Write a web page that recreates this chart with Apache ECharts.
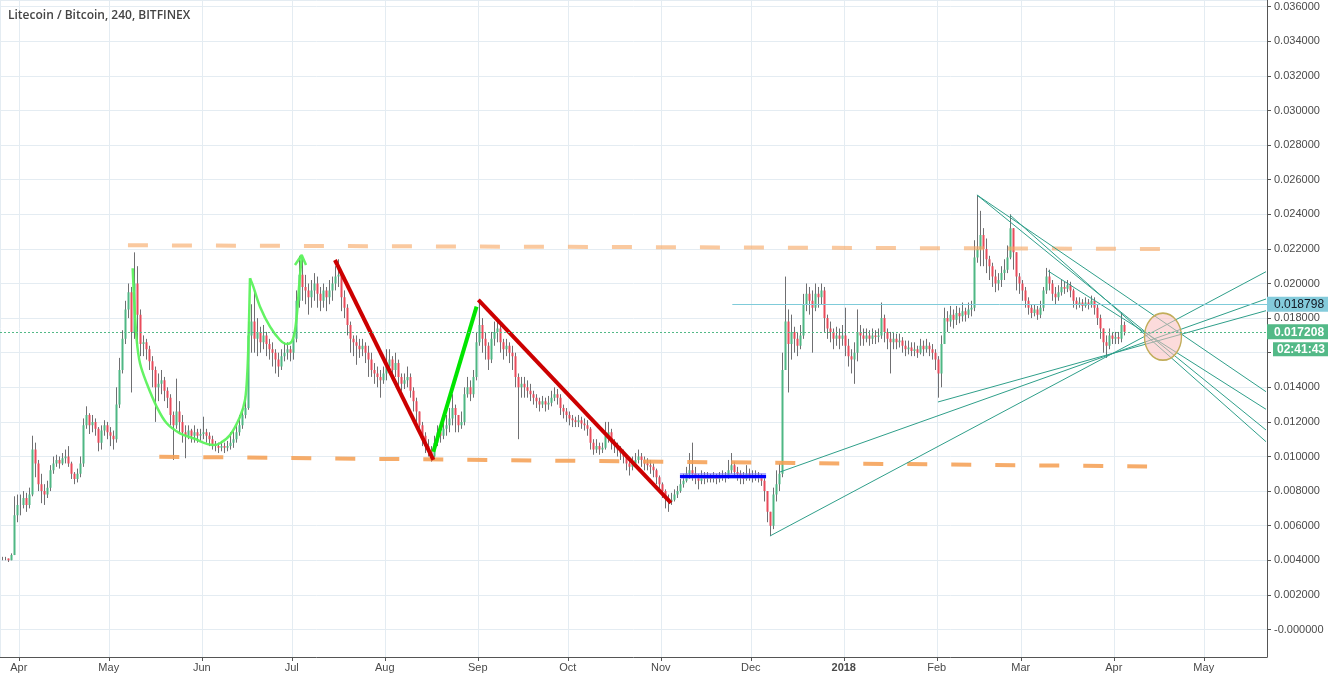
<!DOCTYPE html>
<html>
<head>
<meta charset="utf-8">
<script src="https://cdn.jsdelivr.net/npm/echarts@6/dist/echarts.min.js"></script>
<style>html,body{margin:0;padding:0;background:#fff}#c{width:1328px;height:676px}</style>
</head>
<body>
<div id="c"></div>
<script>
// ---- DATA (daily candles, price in units of 0.0001 BTC), first candle 2017-03-26 ----
const firstDay = '2017-03-26';
const closes = [
41,41,40,43,66,72,
72,76,72,78,104,96,84,80,78,82,92,96,98,96,99,100,96,90,87,90,96,118,124,118,120,116,108,115,118,114,
112,110,130,150,168,185,195,172,200,182,165,166,162,155,150,140,142,144,138,134,124,118,126,120,114,112,115,112,114,112,113,
114,112,110,107,106,105,106,105,106,108,110,114,118,124,128,170,178,168,172,166,170,165,162,160,156,152,158,160,162,160,
168,190,205,198,196,192,196,200,194,190,196,192,196,200,204,205,192,186,176,168,166,164,162,164,160,156,150,148,146,144,148,
152,156,150,154,146,142,144,146,138,132,126,118,112,106,104,100,108,114,112,116,118,122,128,124,118,120,136,140,136,146,166,
176,168,164,156,168,172,174,166,162,164,160,158,146,140,142,140,138,136,134,132,130,132,130,131,134,136,134,128,126,124,
122,121,120,121,119,118,116,108,104,106,104,105,112,114,108,106,104,102,100,96,94,96,98,100,98,96,95,94,92,88,84,
80,76,74,75,78,80,84,86,90,92,90,88,86,88,87,88,87,88,87,88,89,88,92,95,91,90,88,87,90,89,
88,89,88,86,80,68,60,78,84,90,150,178,165,172,168,164,170,188,194,190,186,194,192,196,180,174,172,168,170,168,170,
164,158,156,160,172,170,168,170,168,170,169,170,180,172,168,166,168,166,167,164,162,163,161,162,160,164,162,164,162,160,156,
148,165,180,178,182,179,183,181,184,182,185,186,215,220,228,220,214,210,204,200,202,206,208,215,232,218,204,200,
196,190,186,183,185,182,186,196,204,200,194,192,195,198,197,199,196,190,188,189,187,189,188,190,186,180,174,166,164,170,168,
169,168,176,172.08
];
const highs = [
42,42,41,44,77,78,
78,80,79,82,112,108,98,90,84,86,95,100,101,100,102,104,106,97,91,93,100,122,129,125,124,122,117,118,121,120,
117,115,140,157,173,190,200,198,218,210,185,170,168,164,158,152,148,150,146,140,136,126,145,132,124,118,118,116,118,116,116,
123,116,114,112,109,108,109,108,109,114,115,118,124,128,135,178,188,196,180,175,176,172,168,166,162,160,162,166,166,164,
172,196,216,214,205,200,202,206,204,198,200,198,202,204,210,214,206,196,188,178,170,170,168,168,166,164,160,154,152,150,152,
162,162,158,160,156,148,148,152,148,140,134,126,120,114,110,106,112,118,118,120,124,128,136,130,124,126,140,146,144,150,172,
189,180,172,166,172,178,178,176,168,168,166,164,160,148,146,146,144,142,138,136,134,135,134,135,138,140,139,136,130,128,
126,124,123,124,123,122,121,117,110,110,108,108,120,120,116,110,108,106,104,101,98,100,102,104,102,100,99,98,96,93,89,
85,81,78,79,81,83,87,90,94,102,108,94,90,92,91,91,90,91,90,91,92,91,98,102,97,94,92,91,95,93,
92,92,91,90,88,80,66,82,92,96,160,204,185,182,175,172,176,194,200,198,196,200,198,200,198,182,178,174,175,174,176,
186,168,162,166,185,176,174,174,173,174,173,174,189,182,174,172,172,171,171,169,167,167,166,166,164,168,167,168,166,165,162,
158,170,186,184,187,185,187,186,189,186,189,190,225,251,242,232,226,216,212,208,206,210,214,222,240,232,214,206,
202,198,192,188,188,187,190,198,209,208,202,198,199,202,201,202,201,197,192,192,191,192,191,193,192,188,182,174,170,174,172,
172,172,183,178
];
const lows = [
40,40,39,40,43,62,
66,70,68,70,77,88,80,73,72,76,80,90,94,93,95,96,94,87,84,85,88,94,116,113,114,112,103,104,112,110,
106,104,108,128,148,165,180,137,168,165,158,158,156,150,140,120,132,136,132,128,118,98,116,114,108,99,110,108,108,108,109,
110,108,106,104,103,102,103,102,103,104,105,108,112,116,122,127,160,160,158,160,162,158,156,152,148,146,150,155,156,155,
156,166,186,190,188,182,186,190,186,184,186,184,188,190,196,198,184,180,170,160,158,153,157,158,154,146,146,142,140,134,142,
144,148,144,146,140,138,139,140,134,126,120,114,106,102,100,97,98,106,108,110,112,114,118,114,114,116,118,134,132,134,144,
164,160,156,150,154,164,166,160,156,158,154,150,140,110,134,134,134,132,130,128,126,128,126,127,129,132,130,124,122,120,
118,117,117,117,116,115,112,104,101,102,101,102,104,108,104,102,100,98,96,92,89,92,94,96,94,92,92,90,88,84,80,
76,70,68,72,74,76,79,82,85,87,86,84,81,84,84,85,85,85,84,85,86,85,87,90,88,86,84,84,86,86,
85,86,85,83,74,62,54,58,74,80,88,150,137,156,160,158,162,168,184,182,160,184,186,188,172,168,166,162,164,162,164,
158,152,148,142,155,164,164,166,164,165,165,166,168,166,162,148,162,162,163,160,158,159,158,158,157,159,158,160,158,156,150,
134,140,165,172,175,174,176,177,178,178,180,181,184,212,210,210,206,202,198,195,196,198,202,206,214,208,196,194,
190,186,182,180,181,179,180,184,194,196,190,188,190,193,194,195,192,186,185,186,184,186,185,186,182,176,168,160,157,162,165,
165,165,166,170
];

// Drawings: points as [days since 2017-04-01, price]
const tealLines = [
  [[319.4, 0.025116], [415.75, 0.013746]],
  [[330.4, 0.023960], [415.75, 0.010855]],
  [[319.4, 0.025116], [415.75, 0.011532]],
  [[343.1, 0.020723], [415.75, 0.012728]],
  [[250.4, 0.005405], [415.75, 0.020682]],
  [[253.75, 0.009104], [415.75, 0.019104]],
  [[306.4, 0.013150], [415.75, 0.018428]]
];
const redLines = [
  [[105.4, 0.021358], [138.2, 0.009798]],
  [[153.2, 0.019046], [217.4, 0.007312]]
];
const greenLine = [[138.2, 0.010277], [152.6, 0.018659]];
const blueLine = [[220.4, 0.008873], [249.1, 0.008873]];
const resistanceLine = [[36.4, 0.022208], [380.4, 0.021994]];
const supportLine = [[46.85, 0.009988], [376.1, 0.009422]];
const cupCurve = [
  [37.98,0.020879],[38.42,0.019237],[39.32,0.016734],[40.42,0.015387],[42.65,0.014231],[45.98,0.012879],
  [49.32,0.011919],[53.75,0.011341],[58.18,0.011052],[64.85,0.010665],[67.08,0.010763],[70.42,0.011243],
  [73.75,0.012301],[75.42,0.013266],[76.18,0.014809],[76.65,0.017121],[77.08,0.020301]
];
const handleCurve = [
  [77.08,0.020301],[78.18,0.019815],[80.42,0.018659],[83.75,0.017503],[87.08,0.016734],[89.32,0.016503],
  [90.98,0.016636],[92.08,0.017312],[92.85,0.018468],[93.52,0.020012],[94.32,0.021549]
];
const arrowHead = [[92.08,0.021069],[94.32,0.021647],[95.75,0.021069]];
const hLevel = 0.018798;
const hLevelStart = 237.85;
const lastPrice = 0.017208;
const countdown = '02:41:43';
const circleCenter = [381.4, 0.016925];
const title = 'Litecoin / Bitcoin, 240, BITFINEX';

// ---- BUILD ----
const DAY = 86400000;
const T0 = Date.parse(firstDay + 'T00:00:00Z');
const REF = Date.UTC(2017, 3, 1);
const t = d => REF + d * DAY;
const P = p => [t(p[0]), p[1]];
const xMin = t(-6.25), xMax = t(416.08);
const yMin = -0.00159, yMax = 0.036387;

const candles = closes.map((c, i) => {
  const o = i ? closes[i - 1] : c;
  const h = Math.max(highs[i], o, c), l = Math.min(lows[i], o, c);
  return [T0 + i * DAY + DAY / 2, o / 1e4, c / 1e4, l / 1e4, h / 1e4];
});

const FONT = '"Liberation Sans", Arial, sans-serif';
const GRID = '#e4ecf2';
const AX = '#555555';

const chart = echarts.init(document.getElementById('c'), null, {renderer: 'canvas'});
chart.setOption({
  animation: false,
  backgroundColor: '#ffffff',
  title: {
    text: title, left: 8, top: 10, padding: 0,
    textStyle: {fontFamily: '"Open Sans", sans-serif', fontSize: 12, fontWeight: 600, color: '#444444'}
  },
  grid: {left: 0, right: 61, top: 0, bottom: 19},
  xAxis: {
    type: 'time', min: xMin, max: xMax, splitNumber: 14,
    minInterval: 28 * DAY, maxInterval: 31 * DAY,
    axisLine: {show: true, onZero: false, lineStyle: {color: AX, width: 1}},
    axisTick: {show: true, length: 4, lineStyle: {color: AX}},
    axisLabel: {color: '#4a4a4a', fontSize: 11, fontFamily: FONT, margin: 5, showMinLabel: false, showMaxLabel: false},
    splitLine: {show: true, lineStyle: {color: GRID, width: 1}}
  },
  yAxis: {
    type: 'value', position: 'right', min: yMin, max: yMax, splitNumber: 19,
    axisLine: {show: true, lineStyle: {color: AX, width: 1}},
    axisTick: {show: true, length: 4, lineStyle: {color: AX}},
    axisLabel: {
      color: '#4a4a4a', fontSize: 11, fontFamily: FONT, margin: 7, showMinLabel: false, showMaxLabel: false,
      formatter: v => Math.abs(v) < 1e-12 ? '-0.000000' : v.toFixed(6)
    },
    splitLine: {show: true, lineStyle: {color: GRID, width: 1}}
  },
  series: [
    {
      type: 'candlestick', name: 'wicks', data: candles, encode: {x: 0, y: [1, 2, 3, 4]},
      barWidth: 1, z: 2, silent: true,
      itemStyle: {color: '#6f6f71', color0: '#6f6f71', borderColor: '#6f6f71', borderColor0: '#6f6f71', borderWidth: 1}
    },
    {
      type: 'candlestick', name: 'bodies', data: candles, encode: {x: 0, y: [1, 2, 3, 4]},
      barWidth: 2.8, z: 3, silent: true,
      itemStyle: {color: '#4fb784', color0: '#e94b5b', borderColor: '#4fb784', borderColor0: '#e94b5b', borderWidth: 0}
    },
    {
      type: 'lines', coordinateSystem: 'cartesian2d', z: 4, silent: true,
      data: [{coords: resistanceLine.map(P)}],
      lineStyle: {color: 'rgba(247,168,100,0.62)', width: 4, type: [20, 24], cap: 'butt', opacity: 1}
    },
    {
      type: 'lines', coordinateSystem: 'cartesian2d', z: 4, silent: true,
      data: [{coords: supportLine.map(P)}],
      lineStyle: {color: 'rgba(245,160,85,0.88)', width: 4, type: [20, 24], cap: 'butt', opacity: 1}
    },
    {
      type: 'lines', coordinateSystem: 'cartesian2d', z: 5, silent: true,
      data: redLines.map(s => ({coords: s.map(P)})),
      lineStyle: {color: '#cc0000', width: 4, opacity: 1}
    },
    {
      type: 'lines', coordinateSystem: 'cartesian2d', z: 5, silent: true,
      data: [{coords: greenLine.map(P)}],
      lineStyle: {color: '#00e500', width: 4, opacity: 1}
    },
    {
      type: 'lines', coordinateSystem: 'cartesian2d', z: 5, silent: true,
      data: [{coords: blueLine.map(P)}],
      lineStyle: {color: 'rgba(110,110,255,0.55)', width: 6, opacity: 1}
    },
    {
      type: 'lines', coordinateSystem: 'cartesian2d', z: 5, silent: true,
      data: [{coords: blueLine.map(P)}],
      lineStyle: {color: '#0000ff', width: 3, opacity: 1}
    },
    {
      type: 'line', data: cupCurve.map(P), smooth: 0.35, symbol: 'none', z: 6, silent: true,
      lineStyle: {color: '#5cf25c', width: 2.5, opacity: 0.95}
    },
    {
      type: 'line', data: handleCurve.map(P), smooth: 0.35, symbol: 'none', z: 6, silent: true,
      lineStyle: {color: '#5cf25c', width: 2.5, opacity: 0.95}
    },
    {
      type: 'line', data: arrowHead.map(P), smooth: false, symbol: 'none', z: 6, silent: true,
      lineStyle: {color: '#5cf25c', width: 2.5, opacity: 0.95}
    },
    {
      type: 'lines', coordinateSystem: 'cartesian2d', z: 6, silent: true,
      data: tealLines.map(s => ({coords: s.map(P)})),
      lineStyle: {color: '#2f9f8a', width: 1, opacity: 1}
    },
    {
      type: 'scatter', data: [P(circleCenter)], symbol: 'circle', symbolSize: [37, 47], z: 7, clip: false, silent: true,
      itemStyle: {color: 'rgba(250,190,190,0.55)', borderColor: '#c2ad5a', borderWidth: 1.5, opacity: 1},
      markLine: {
        silent: true, symbol: ['none', 'none'], animation: false, z: 8,
        data: [
          [
            {
              coord: [t(hLevelStart), hLevel],
              lineStyle: {color: '#7fcbd9', width: 1, type: 'solid'},
              label: {
                show: true, position: 'end', distance: 0,
                formatter: () => '{v|' + hLevel.toFixed(6) + '}',
                rich: {v: {backgroundColor: '#84cbdb', color: '#131722', fontSize: 12, fontFamily: FONT, padding: [2, 4, 1, 7], lineHeight: 13}}
              }
            },
            {coord: [xMax, hLevel]}
          ],
          [
            {
              coord: [xMin, lastPrice],
              lineStyle: {color: '#53b987', width: 1, type: [2, 2]},
              label: {
                show: true, position: 'end', distance: 0,
                formatter: () => '{v|' + lastPrice.toFixed(6) + '}',
                rich: {v: {backgroundColor: '#53b987', color: '#ffffff', fontWeight: 'bold', fontSize: 12, fontFamily: FONT, padding: [2, 4, 1, 7], lineHeight: 13}}
              }
            },
            {coord: [xMax, lastPrice]}
          ],
          [
            {
              coord: [xMin, lastPrice],
              lineStyle: {color: 'rgba(0,0,0,0)', width: 0},
              label: {
                show: true, position: 'end', distance: 6, padding: [35, 0, 0, 0],
                formatter: () => '{v|' + countdown + '}',
                rich: {v: {backgroundColor: '#53b987', color: '#ffffff', fontWeight: 'bold', fontSize: 12, fontFamily: FONT, padding: [1, 4, 1, 4], lineHeight: 12}}
              }
            },
            {coord: [xMax, lastPrice]}
          ]
        ]
      }
    }
  ]
});
</script>
</body>
</html>
